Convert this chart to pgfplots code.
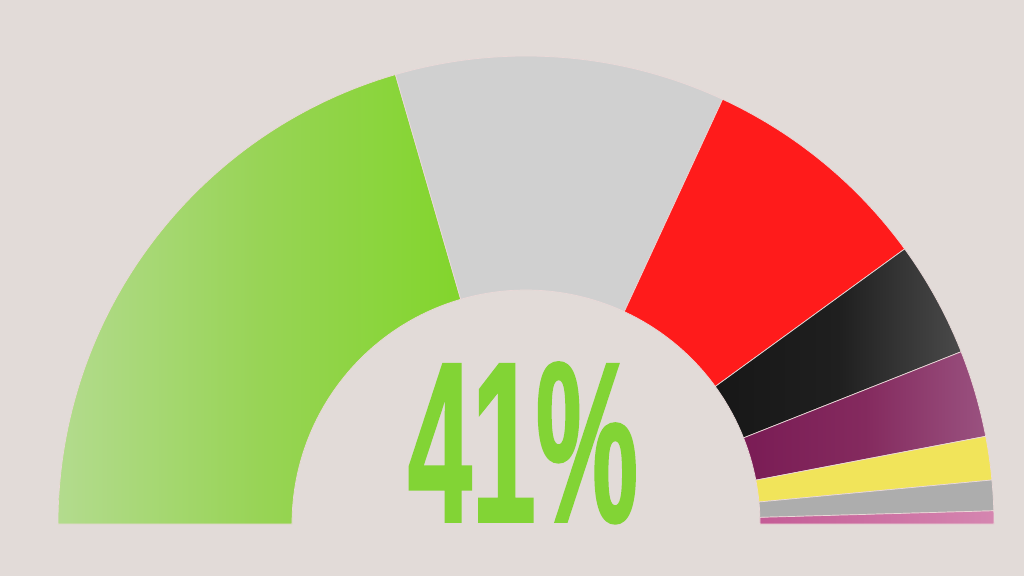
\documentclass[border=0pt]{standalone}
\usepackage{pgfplots}
\pgfplotsset{compat=1.18}
\usepackage{fontspec}
\setmainfont{Liberation Sans}
\newfontfamily\numfont[FakeStretch=0.5,FakeBold=0.8]{Liberation Sans Bold}

\definecolor{bg}{HTML}{E2DBD8}
\definecolor{sep}{HTML}{EAD9D8}
\definecolor{greenL}{HTML}{B3DB8E}
\definecolor{greenM}{HTML}{98D456}
\definecolor{greenR}{HTML}{82D52C}
\definecolor{lgray}{HTML}{D0D0D0}
\definecolor{redp}{HTML}{FF1B1B}
\definecolor{blackL}{HTML}{171717}
\definecolor{blackM}{HTML}{1F1F1F}
\definecolor{blackR}{HTML}{4A4A4A}
\definecolor{purpL}{HTML}{7A1C55}
\definecolor{purpM}{HTML}{842A5E}
\definecolor{purpR}{HTML}{9A5280}
\definecolor{yel}{HTML}{F1E45A}
\definecolor{gray2}{HTML}{ADADAD}
\definecolor{pinkL}{HTML}{C45C96}
\definecolor{pinkR}{HTML}{D586B0}
\definecolor{txtgreen}{HTML}{82D435}

% one ring segment from cumulative share #1 to #2 (percent of the half circle)
\newcommand{\seg}[3]{%
  \pgfmathsetmacro\aA{180-1.8*#1}%
  \pgfmathsetmacro\aB{180-1.8*#2}%
  \pgfmathsetmacro\xA{526+468*cos(\aA)}%
  \pgfmathsetmacro\yA{52+468*sin(\aA)}%
  \pgfmathsetmacro\xI{526+234*cos(\aB)}%
  \pgfmathsetmacro\yI{52+234*sin(\aB)}%
  \edef\tmp{\noexpand\path[#3, draw=sep, line width=0.7pt, line join=round]
    (axis cs:\xA,\yA) arc[start angle=\aA, end angle=\aB, radius=468pt]
    -- (axis cs:\xI,\yI) arc[start angle=\aB, end angle=\aA, radius=234pt] -- cycle;}%
  \tmp
}

\begin{document}
\begin{tikzpicture}
\begin{axis}[
    width=1024pt, height=576pt,
    scale only axis,
    xmin=0, xmax=1024,
    ymin=0, ymax=576,
    hide axis,
    clip=false
]
\fill[bg] (axis cs:0,0) rectangle (axis cs:1024,576);

% shares: 41.0 / 22.8 / 16.2 / 8.0 / 6.0 / 3.0 / 2.1 / 0.9
\seg{0}{41.0}{left color=greenL, right color=greenR, middle color=greenM}
\seg{41.0}{63.8}{fill=lgray}
\seg{63.8}{80.0}{fill=redp}
\seg{80.0}{88.0}{left color=blackL, right color=blackR, middle color=blackM}
\seg{88.0}{94.0}{left color=purpL, right color=purpR, middle color=purpM}
\seg{94.0}{97.0}{fill=yel}
\seg{97.0}{99.1}{fill=gray2}
\seg{99.1}{100}{left color=pinkL, right color=pinkR}

\node[anchor=base, inner sep=0pt, text=txtgreen,
      font=\numfont\fontsize{230}{230}\selectfont] at (axis cs:523,54) {41\%};
\end{axis}
\end{tikzpicture}
\end{document}
